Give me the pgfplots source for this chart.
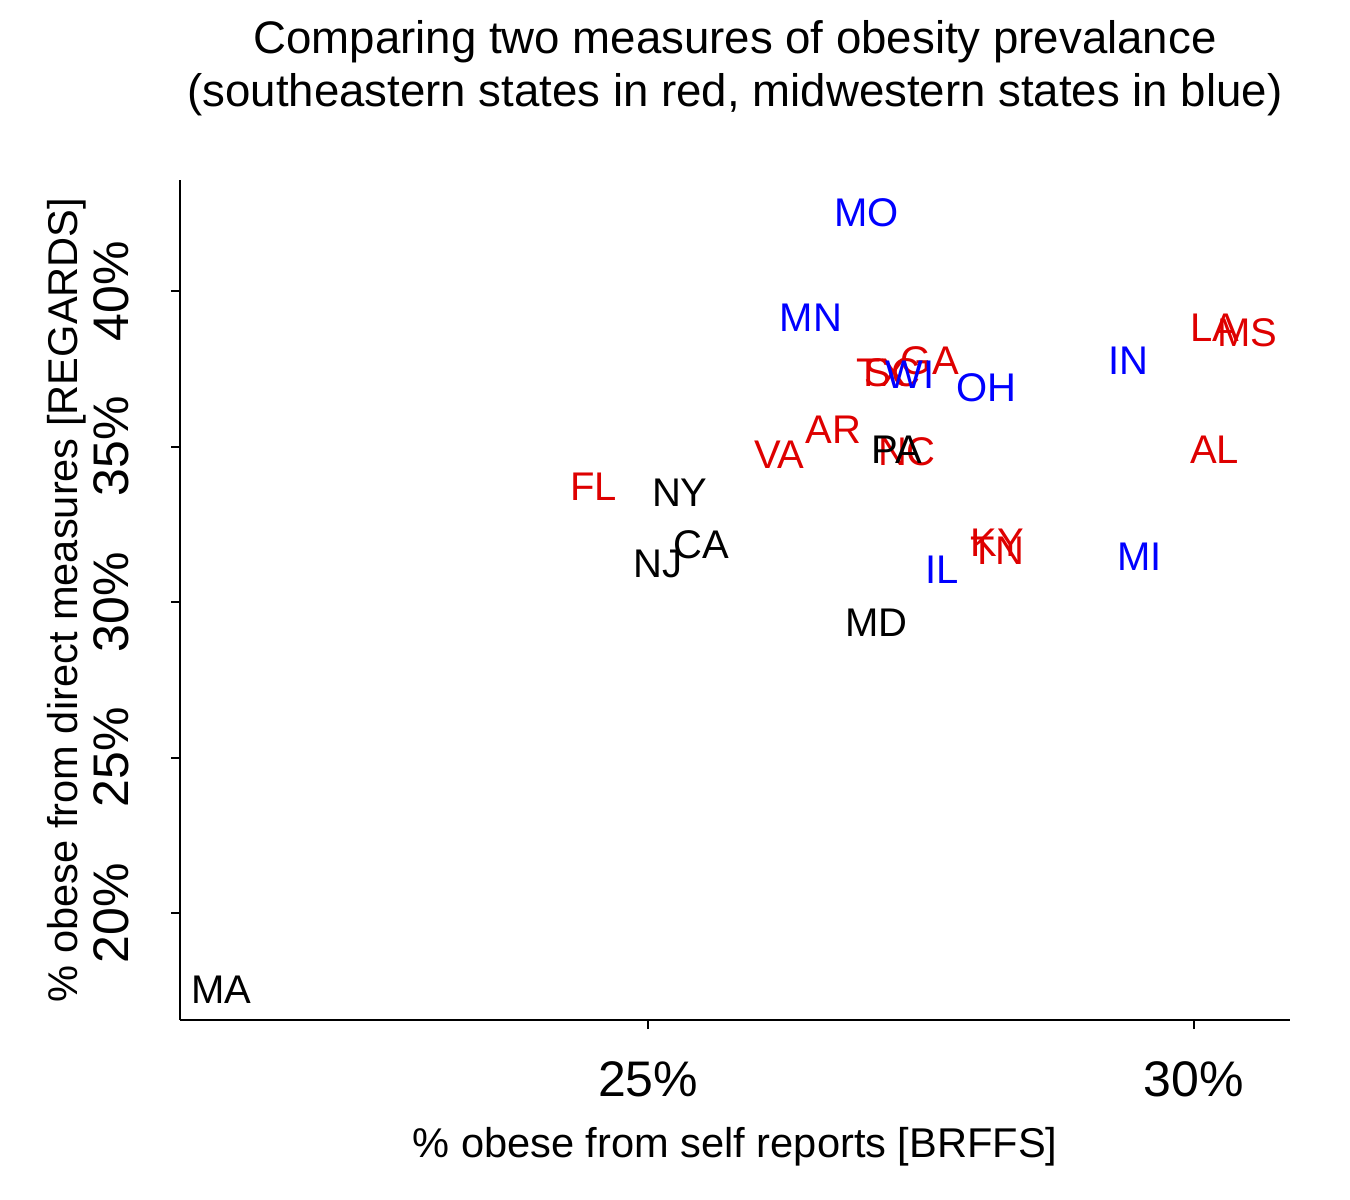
\documentclass[border=0pt]{standalone}
\usepackage{pgfplots}
\pgfplotsset{compat=1.18}
\usepackage{pgfplotstable}
\usepackage{fontspec}
\setmainfont{Liberation Sans}
\definecolor{rred}{RGB}{222,0,0}
\definecolor{rblue}{RGB}{0,0,255}
\pgfplotstableread{
x y lab
27.14 37.36 TX
27.24 37.36 SC
27.58 37.75 GA
30.19 38.81 LA
30.49 38.65 MS
26.70 35.53 AR
26.20 34.73 VA
27.37 34.82 NC
30.19 34.89 AL
24.50 33.70 FL
28.20 31.90 KY
28.20 31.65 TN
}\redtab
\pgfplotstableread{
x y lab
27.00 42.51 MO
26.49 39.13 MN
29.40 37.75 IN
27.40 37.30 WI
28.10 36.88 OH
27.69 31.03 IL
29.50 31.45 MI
}\bluetab
\pgfplotstableread{
x y lab
27.28 34.89 PA
25.29 33.50 NY
25.49 31.83 CA
25.09 31.22 NJ
27.09 29.32 MD
21.09 17.52 MA
}\blacktab
\begin{document}
\begin{tikzpicture}
\useasboundingbox (0,0) rectangle (675pt,600pt);
\begin{axis}[
  at={(90pt,90pt)}, anchor=south west,
  scale only axis, width=555pt, height=420pt,
  xmin=20.71, xmax=30.88, ymin=16.56, ymax=43.57,
  axis x line*=bottom, axis y line*=left,
  axis line style={-, line width=1pt, black},
  tick align=outside, major tick length=4.5pt,
  every tick/.style={black, line width=1pt},
  xtick={25,30}, xticklabels={25\%,30\%},
  ytick={20,25,30,35,40}, yticklabels={20\%,25\%,30\%,35\%,40\%},
  /pgf/number format/assume math mode=true,
  xticklabel style={font=\fontsize{25}{30}\selectfont, anchor=center, yshift=-25pt},
  yticklabel style={font=\fontsize{25}{30}\selectfont, anchor=center, rotate=90, yshift=30pt},
  clip=false,
  nodes near coords align=center,
]
\addplot[draw=none, mark=none, nodes near coords, point meta=explicit symbolic,
  nodes near coords style={font=\fontsize{20}{24}\selectfont, text=rred, anchor=center}]
  table[x=x, y=y, meta=lab] {\redtab};
\addplot[draw=none, mark=none, nodes near coords, point meta=explicit symbolic,
  nodes near coords style={font=\fontsize{20}{24}\selectfont, text=rblue, anchor=center}]
  table[x=x, y=y, meta=lab] {\bluetab};
\addplot[draw=none, mark=none, nodes near coords, point meta=explicit symbolic,
  nodes near coords style={font=\fontsize{20}{24}\selectfont, text=black, anchor=center}]
  table[x=x, y=y, meta=lab] {\blacktab};
\end{axis}
\node[font=\fontsize{22.8}{27}\selectfont] at (367.5pt,579pt) {Comparing two measures of obesity prevalance};
\node[font=\fontsize{22.8}{27}\selectfont] at (367.5pt,552.5pt) {(southeastern states in red, midwestern states in blue)};
\node[font=\fontsize{20.8}{25}\selectfont] at (367.5pt,26.5pt) {\% obese from self reports [BRFFS]};
\node[font=\fontsize{20.8}{25}\selectfont, rotate=90] at (33.5pt,300pt) {\% obese from direct measures [REGARDS]};
\end{tikzpicture}
\end{document}
